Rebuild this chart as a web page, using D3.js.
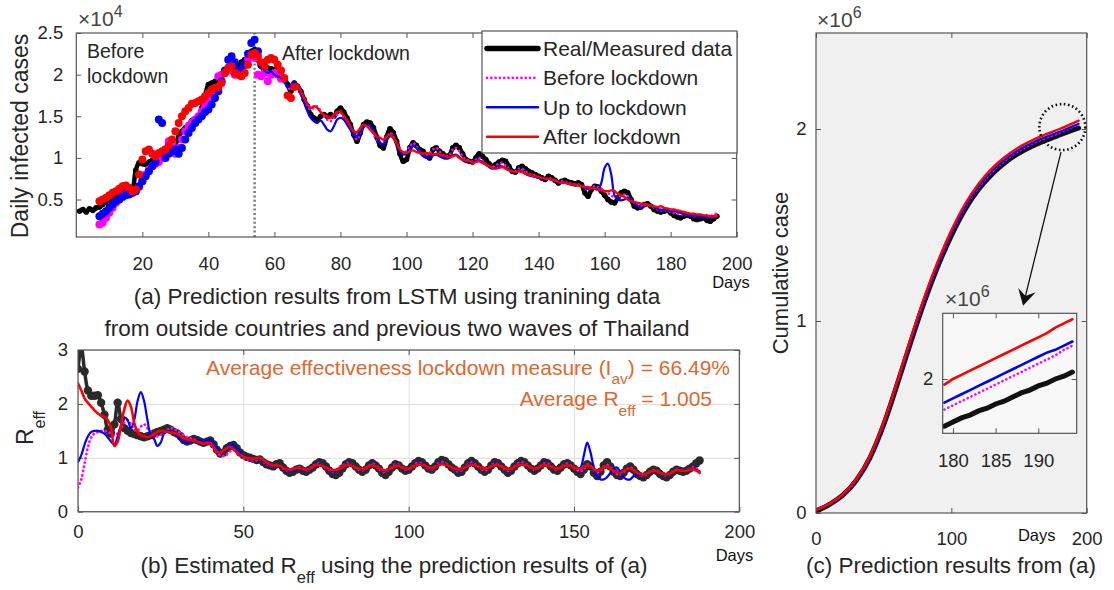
<!DOCTYPE html>
<html>
<head>
<meta charset="utf-8">
<script src="https://cdn.jsdelivr.net/npm/d3@7"></script>
<style>
  body { margin: 0; background: #fff; }
  svg { font-family: "Liberation Sans", Arial, sans-serif; }
</style>
</head>
<body>
<div id="chart"></div>
<script>
// ---------- data ----------
// (a) daily infected cases, in units of 1e4, real data from day 1
const realStartDay = 1;
const dailyReal = [
  0.36,0.38,0.35,0.39,0.37,0.40,
  0.41,0.44,0.47,0.50,0.53,0.55,0.57,0.58,0.60,0.59,0.62,
  0.85,0.94,0.93,
  0.92,0.95,0.97,0.96,1.00,1.04,1.07,1.10,1.12,1.16,
  1.25,1.32,1.36,1.40,1.45,1.47,1.50,1.60,1.75,1.88,
  1.90,1.92,1.95,2.00,2.05,2.10,2.12,2.08,2.10,2.15,
  2.18,2.22,2.28,2.30,2.18,2.10,2.05,2.08,2.07,2.06,
  2.04,2.00,1.96,1.88,1.80,1.90,1.86,1.80,1.70,1.62,
  1.52,1.48,1.46,1.50,1.52,1.50,1.52,1.50,1.56,1.60,
  1.55,1.48,1.40,1.28,1.20,1.30,1.40,1.43,1.42,1.36,
  1.25,1.15,1.12,1.25,1.35,1.30,1.20,1.05,0.96,0.98,
  1.12,1.18,1.15,1.10,1.08,1.03,1.00,1.10,1.12,1.08,
  1.05,1.02,1.03,1.12,1.15,1.12,1.05,0.98,0.96,0.95,
  1.00,1.05,1.02,0.98,0.93,0.90,0.92,0.95,0.97,0.96,
  0.90,0.84,0.83,0.88,0.90,0.87,0.84,0.82,0.80,0.78,
  0.76,0.74,0.78,0.76,0.73,0.70,0.72,0.73,0.71,0.70,
  0.69,0.70,0.68,0.58,0.54,0.62,0.66,0.65,0.60,0.55,
  0.50,0.47,0.46,0.52,0.58,0.60,0.58,0.50,0.42,0.40,
  0.41,0.44,0.45,0.42,0.38,0.36,0.35,0.36,0.37,0.34,
  0.31,0.29,0.28,0.30,0.31,0.30,0.27,0.26,0.27,0.28,
  0.25,0.24,0.27,0.30
];
// predictions start at day 7
const predStartDay = 7;
const dailyAfter = [
  0.48,0.50,0.52,0.55,0.58,0.60,0.63,0.66,0.67,0.64,0.60,
  0.62,0.80,0.98,1.08,1.10,1.05,1.02,1.06,1.08,1.10,1.15,1.22,1.32,
  1.42,1.50,1.56,1.60,1.65,1.66,1.68,1.70,1.74,1.78,
  1.82,1.84,1.85,1.90,2.02,2.08,2.10,2.02,2.00,1.98,
  2.02,2.12,2.24,2.26,2.22,2.15,2.10,2.18,2.20,2.18,
  2.12,2.05,1.96,1.75,1.72,1.85,1.88,1.80,1.72,1.65,
  1.60,1.62,1.60,1.55,1.52,1.50,1.48,1.52,1.55,1.56,
  1.50,1.45,1.38,1.32,1.31,1.36,1.40,1.38,1.34,1.30,
  1.26,1.24,1.22,1.26,1.28,1.24,1.18,1.10,1.07,1.06,
  1.08,1.09,1.07,1.06,1.05,1.06,1.05,1.04,1.05,1.04,
  1.03,1.02,1.01,1.02,1.03,1.00,0.98,0.97,0.96,0.94,
  0.95,0.96,0.94,0.92,0.90,0.88,0.87,0.88,0.89,0.87,
  0.85,0.84,0.83,0.84,0.83,0.81,0.80,0.79,0.78,0.77,
  0.76,0.75,0.75,0.74,0.73,0.71,0.70,0.70,0.69,0.68,
  0.68,0.67,0.66,0.65,0.65,0.64,0.63,0.62,0.61,0.60,
  0.60,0.61,0.60,0.57,0.55,0.53,0.50,0.48,0.47,0.46,
  0.45,0.44,0.44,0.43,0.42,0.41,0.42,0.40,0.39,0.38,
  0.38,0.37,0.36,0.35,0.34,0.33,0.33,0.32,0.32,0.31,
  0.31,0.30,0.30,0.30
];
const dailyUpTo = [
  0.30,0.33,0.36,0.40,0.44,0.48,0.50,0.53,0.55,0.56,0.58,
  0.60,0.66,0.72,0.78,0.84,0.90,0.95,1.46,1.42,1.00,1.05,1.08,1.10,
  1.05,1.12,1.22,1.30,1.36,1.42,1.46,1.50,1.55,1.58,
  1.64,1.72,1.80,1.92,2.05,2.18,2.22,2.15,2.06,2.04,
  2.12,2.25,2.38,2.42,2.28,2.12,2.05,2.02,2.04,2.00,
  1.98,1.96,1.92,1.85,1.88,1.92,1.86,1.78,1.66,1.56,
  1.48,1.44,1.42,1.45,1.40,1.34,1.32,1.38,1.46,1.48,
  1.46,1.40,1.34,1.28,1.26,1.32,1.38,1.40,1.38,1.32,
  1.24,1.18,1.16,1.22,1.26,1.24,1.16,1.08,1.04,1.05,
  1.10,1.14,1.12,1.06,1.02,1.00,1.00,1.03,1.04,1.02,
  1.00,0.99,1.00,1.03,1.04,1.01,0.97,0.95,0.96,0.95,
  0.96,0.97,0.95,0.92,0.89,0.87,0.88,0.90,0.90,0.88,
  0.86,0.84,0.83,0.85,0.84,0.81,0.79,0.78,0.77,0.76,
  0.75,0.74,0.75,0.74,0.72,0.70,0.70,0.71,0.69,0.68,
  0.67,0.67,0.66,0.64,0.63,0.64,0.63,0.62,0.70,0.88,
  0.93,0.80,0.55,0.50,0.49,0.50,0.52,0.50,0.46,0.42,
  0.40,0.42,0.44,0.43,0.41,0.39,0.38,0.38,0.37,0.36,
  0.36,0.35,0.34,0.33,0.32,0.31,0.31,0.30,0.30,0.29,
  0.29,0.28,0.29,0.30
];
const dailyBefore = [
  0.20,0.22,0.28,0.34,0.40,0.46,0.50,0.54,0.56,0.57,0.58,
  0.60,0.65,0.72,0.80,0.86,0.90,0.93,0.95,1.00,1.10,1.20,1.18,1.05,
  1.12,1.22,1.32,1.38,1.42,1.46,1.50,1.56,1.62,1.68,
  1.74,1.82,1.98,2.00,2.02,2.06,2.05,2.00,2.02,2.06,
  2.12,2.18,2.22,2.20,2.00,1.98,2.02,1.92,2.00,2.02,
  2.00,1.95,1.90,1.85,1.82,1.86,1.84,1.76,1.68,1.62,
  1.58,1.60,1.62,1.56,1.50,1.46,1.44,1.48,1.52,1.54,
  1.50,1.44,1.36,1.28,1.22,1.30,1.38,1.40,1.36,1.28,
  1.22,1.18,1.18,1.24,1.30,1.26,1.18,1.10,1.06,1.08,
  1.14,1.18,1.14,1.08,1.05,1.04,1.06,1.10,1.12,1.08,
  1.04,1.02,1.03,1.10,1.12,1.08,1.02,0.98,0.97,0.96,
  0.98,1.00,0.97,0.93,0.90,0.89,0.91,0.93,0.94,0.91,
  0.87,0.84,0.84,0.87,0.87,0.84,0.81,0.80,0.79,0.77,
  0.75,0.74,0.76,0.75,0.73,0.71,0.72,0.72,0.70,0.69,
  0.68,0.68,0.67,0.64,0.62,0.64,0.66,0.65,0.63,0.60,
  0.58,0.55,0.52,0.53,0.55,0.56,0.54,0.50,0.46,0.43,
  0.42,0.44,0.44,0.42,0.40,0.38,0.37,0.37,0.37,0.35,
  0.34,0.33,0.32,0.32,0.32,0.31,0.30,0.30,0.30,0.30,
  0.29,0.30,0.32,0.33
];
const lockdownDay = 54;

// (b) effective reproduction number, from day 0
const rStartDay = 0;
const rReal = [
  2.65,3.05,2.60,2.25,2.15,2.15,2.16,2.02,1.80,1.52,
  1.45,1.62,2.02,1.72,1.55,1.50,1.46,1.44,1.42,1.40,
  1.38,1.40,1.42,1.45,1.48,1.50,1.52,1.55,1.52,1.48,
  1.45,1.40,1.33,1.30,1.32,1.35,1.33,1.30,1.28,1.30,
  1.32,1.25,1.15,1.08,1.10,1.18,1.22,1.24,1.18,1.10,
  1.05,1.02,1.00,0.98,0.96,0.97,0.92,0.88,0.86,0.84,
  0.88,0.90,0.82,0.76,0.72,0.74,0.78,0.80,0.76,0.74,
  0.78,0.82,0.88,0.92,0.90,0.84,0.76,0.70,0.68,0.72,
  0.80,0.88,0.92,0.90,0.84,0.78,0.74,0.78,0.86,0.90,
  0.86,0.80,0.72,0.68,0.74,0.82,0.88,0.86,0.80,0.76,
  0.78,0.84,0.90,0.94,0.92,0.86,0.80,0.78,0.84,0.92,
  0.96,0.94,0.88,0.82,0.78,0.72,0.74,0.82,0.90,0.94,
  0.90,0.84,0.78,0.74,0.78,0.86,0.92,0.90,0.84,0.78,
  0.72,0.76,0.84,0.90,0.94,0.92,0.86,0.80,0.76,0.80,
  0.86,0.92,0.90,0.84,0.78,0.76,0.82,0.88,0.90,0.86,
  0.80,0.74,0.70,0.78,0.88,0.84,0.72,0.66,0.74,0.86,
  0.92,0.84,0.74,0.68,0.66,0.72,0.80,0.84,0.78,0.70,
  0.66,0.64,0.68,0.74,0.78,0.76,0.70,0.66,0.64,0.68,
  0.74,0.78,0.76,0.74,0.76,0.80,0.84,0.90,0.95
];
const rAfter = [
  2.38,2.25,2.10,2.02,1.95,1.88,1.82,1.78,1.76,1.70,
  1.55,1.22,1.30,1.60,1.90,2.06,1.95,1.65,1.48,1.42,
  1.40,1.38,1.40,1.44,1.48,1.50,1.49,1.48,1.47,1.46,
  1.44,1.40,1.36,1.34,1.33,1.32,1.30,1.28,1.26,1.28,
  1.27,1.20,1.12,1.10,1.14,1.18,1.20,1.16,1.10,1.05,
  1.02,1.00,0.99,0.98,0.99,1.00,0.96,0.92,0.88,0.86,
  0.86,0.85,0.82,0.79,0.78,0.79,0.81,0.81,0.79,0.78,
  0.80,0.83,0.86,0.87,0.85,0.82,0.79,0.77,0.78,0.80,
  0.83,0.86,0.87,0.85,0.82,0.80,0.79,0.81,0.84,0.86,
  0.84,0.81,0.78,0.77,0.79,0.82,0.85,0.85,0.82,0.80,
  0.80,0.82,0.85,0.87,0.87,0.85,0.82,0.81,0.83,0.86,
  0.88,0.87,0.85,0.82,0.80,0.79,0.80,0.82,0.85,0.87,
  0.86,0.84,0.81,0.80,0.81,0.84,0.86,0.86,0.84,0.81,
  0.79,0.80,0.83,0.86,0.87,0.87,0.85,0.82,0.80,0.81,
  0.84,0.86,0.86,0.84,0.81,0.80,0.82,0.85,0.86,0.85,
  0.82,0.80,0.80,0.83,0.86,0.84,0.80,0.76,0.78,0.82,
  0.84,0.80,0.76,0.73,0.72,0.75,0.79,0.80,0.77,0.73,
  0.70,0.69,0.71,0.74,0.76,0.75,0.72,0.70,0.69,0.71,
  0.74,0.77,0.77,0.76,0.76,0.78,0.79,0.76,0.72
];
const rUpTo = [
  0.92,1.05,1.25,1.40,1.48,1.50,1.50,1.48,1.45,1.38,
  1.30,1.25,1.40,1.60,1.75,1.70,1.55,1.70,2.05,2.22,
  2.05,1.70,1.42,1.35,1.22,1.28,1.45,1.50,1.48,1.46,
  1.40,1.32,1.28,1.28,1.30,1.30,1.32,1.33,1.30,1.32,
  1.34,1.28,1.18,1.12,1.14,1.20,1.25,1.25,1.18,1.10,
  1.04,1.00,0.98,0.97,0.98,0.98,0.94,0.90,0.86,0.84,
  0.86,0.86,0.82,0.78,0.75,0.76,0.79,0.80,0.78,0.76,
  0.78,0.82,0.86,0.88,0.86,0.82,0.78,0.75,0.76,0.80,
  0.84,0.87,0.88,0.86,0.82,0.79,0.78,0.80,0.84,0.87,
  0.85,0.81,0.77,0.76,0.78,0.82,0.86,0.86,0.82,0.79,
  0.79,0.82,0.86,0.88,0.88,0.85,0.81,0.80,0.83,0.87,
  0.89,0.88,0.85,0.81,0.78,0.77,0.79,0.82,0.86,0.88,
  0.87,0.84,0.80,0.79,0.80,0.84,0.87,0.87,0.84,0.80,
  0.78,0.79,0.83,0.87,0.88,0.88,0.85,0.81,0.79,0.80,
  0.84,0.87,0.87,0.84,0.80,0.79,0.82,0.86,0.87,0.85,
  0.82,0.80,0.82,1.05,1.28,1.10,0.82,0.66,0.60,0.60,
  0.64,0.72,0.80,0.82,0.74,0.64,0.60,0.60,0.66,0.70,
  0.68,0.68,0.70,0.73,0.75,0.74,0.71,0.69,0.68,0.70,
  0.73,0.76,0.77,0.76,0.77,0.79,0.80,0.78,0.75
];
const rBefore = [
  0.45,0.60,0.90,1.20,1.38,1.45,1.48,1.50,1.50,1.48,
  1.45,1.42,1.45,1.55,1.65,1.70,1.62,1.52,1.50,1.58,
  1.62,1.55,1.48,1.42,1.40,1.42,1.48,1.52,1.55,1.54,
  1.50,1.46,1.42,1.38,1.36,1.34,1.32,1.30,1.30,1.28,
  1.25,1.18,1.10,1.05,1.03,1.06,1.12,1.15,1.10,1.05,
  1.00,0.98,0.96,0.95,0.96,0.97,0.93,0.89,0.86,0.84,
  0.87,0.86,0.81,0.77,0.76,0.78,0.80,0.82,0.79,0.76,
  0.79,0.84,0.88,0.89,0.86,0.81,0.77,0.74,0.76,0.81,
  0.85,0.89,0.90,0.86,0.81,0.78,0.77,0.80,0.85,0.89,
  0.86,0.80,0.75,0.74,0.78,0.83,0.88,0.87,0.82,0.78,
  0.79,0.83,0.88,0.91,0.89,0.85,0.80,0.79,0.83,0.89,
  0.92,0.90,0.86,0.81,0.77,0.75,0.77,0.82,0.88,0.91,
  0.88,0.84,0.79,0.77,0.79,0.85,0.89,0.88,0.84,0.79,
  0.76,0.78,0.84,0.89,0.91,0.90,0.86,0.81,0.78,0.80,
  0.85,0.89,0.89,0.85,0.80,0.78,0.82,0.87,0.89,0.86,
  0.81,0.77,0.75,0.80,0.87,0.85,0.78,0.73,0.76,0.83,
  0.87,0.82,0.75,0.70,0.69,0.73,0.79,0.82,0.78,0.72,
  0.68,0.67,0.70,0.74,0.77,0.76,0.72,0.69,0.67,0.70,
  0.75,0.78,0.77,0.76,0.77,0.80,0.82,0.80,0.76
];

// (c) cumulative cases, in units of 1e6
const cumDays = [0,10,20,30,40,50,60,70,80,90,100,110,120,130,140,150,160,170,180,190,194];
const cumReal   = [0.008,0.045,0.094,0.172,0.290,0.460,0.670,0.890,1.100,1.285,1.445,1.580,1.685,1.765,1.827,1.875,1.912,1.942,1.969,1.995,2.005];
const cumBefore = [0.018,0.048,0.096,0.174,0.293,0.465,0.675,0.896,1.107,1.293,1.454,1.590,1.695,1.776,1.838,1.887,1.924,1.954,1.981,2.012,2.024];
const cumUpTo   = [0.020,0.050,0.098,0.176,0.295,0.466,0.678,0.899,1.111,1.297,1.458,1.594,1.700,1.781,1.843,1.892,1.929,1.959,1.986,2.016,2.027];
const cumAfter  = [0.015,0.050,0.100,0.180,0.300,0.473,0.686,0.910,1.123,1.310,1.472,1.608,1.714,1.795,1.857,1.905,1.942,1.973,2.000,2.031,2.043];
// zoomed inset, days 179..194
const insetDays = [179,180,181,182,183,184,185,186,187,188,189,190,191,192,193,194];
const insReal   = [1.966,1.969,1.972,1.974,1.977,1.979,1.982,1.984,1.987,1.990,1.992,1.995,1.997,2.000,2.002,2.005];
const insBefore = [1.978,1.981,1.984,1.987,1.990,1.993,1.996,1.999,2.002,2.005,2.008,2.011,2.014,2.017,2.021,2.024];
const insUpTo   = [1.983,1.986,1.989,1.992,1.995,1.998,2.001,2.004,2.007,2.010,2.013,2.016,2.019,2.021,2.024,2.027];
const insAfter  = [1.996,2.000,2.003,2.006,2.009,2.012,2.015,2.018,2.021,2.024,2.027,2.030,2.033,2.037,2.040,2.043];

const legendNames = ["Real/Measured data", "Before lockdown", "Up to lockdown", "After lockdown"];
const avgLockdown = "66.49%", avgReff = "1.005";

// ---------- drawing ----------
const W = 1114, H = 590;
const textCol = "#262626", axisCol = "#555", orange = "#e0672f";
const svg = d3.select("#chart").append("svg").attr("width", W).attr("height", H);

const pts = (arr, start) => arr.map((v, i) => [start + i, v]);
const zip = (xs, ys) => xs.map((d, i) => [d, ys[i]]);

function panel(id, x, y, o) {
  const [xl, xr] = x.range(), [yb, yt] = y.range();
  svg.append("clipPath").attr("id", id).append("rect")
    .attr("x", xl).attr("y", yt).attr("width", xr - xl).attr("height", yb - yt);
  svg.append("rect").attr("x", xl).attr("y", yt).attr("width", xr - xl).attr("height", yb - yt)
    .attr("fill", o.bg || "#fff");
  const style = s => {
    s.select(".domain").remove();
    s.attr("font-size", o.fs || 18.5).attr("font-family", null).attr("color", textCol);
    s.selectAll(".tick line").attr("stroke", axisCol);
  };
  if (o.grid) {
    svg.append("g").attr("transform", `translate(0,${yb})`)
      .call(d3.axisBottom(x).tickValues(o.xt).tickSize(-(yb - yt)).tickFormat(""))
      .call(s => s.select(".domain").remove())
      .selectAll("line").attr("stroke", "#dedede");
    svg.append("g").attr("transform", `translate(${xl},0)`)
      .call(d3.axisLeft(y).tickValues(o.yt).tickSize(-(xr - xl)).tickFormat(""))
      .call(s => s.select(".domain").remove())
      .selectAll("line").attr("stroke", "#dedede");
  }
  svg.append("g").attr("transform", `translate(0,${yb})`)
    .call(d3.axisBottom(x).tickValues(o.xt).tickSize(-5).tickPadding(o.xpad).tickFormat(String)).call(style);
  svg.append("g").attr("transform", `translate(0,${yt})`)
    .call(d3.axisTop(x).tickValues(o.xt).tickSize(-5).tickFormat("")).call(style);
  svg.append("g").attr("transform", `translate(${xl},0)`)
    .call(d3.axisLeft(y).tickValues(o.yt).tickSize(-5).tickPadding(o.ypad).tickFormat(String)).call(style);
  svg.append("g").attr("transform", `translate(${xr},0)`)
    .call(d3.axisRight(y).tickValues(o.yt).tickSize(-5).tickFormat("")).call(style);
  return svg.append("g").attr("clip-path", `url(#${id})`);
}

function box(x, y) {
  const [xl, xr] = x.range(), [yb, yt] = y.range();
  svg.append("rect").attr("x", xl).attr("y", yt).attr("width", xr - xl).attr("height", yb - yt)
    .attr("fill", "none").attr("stroke", axisCol).attr("stroke-width", 1.2);
}

// text with sub/superscript parts: [string, "sub"|"sup"|undefined]
function rich(x, y, parts, o) {
  const t = svg.append("text").attr("font-size", o.fs)
    .attr("text-anchor", o.anchor || "start").attr("fill", o.fill || textCol);
  if (o.rotate) t.attr("transform", `translate(${x},${y}) rotate(-90)`);
  else t.attr("x", x).attr("y", y);
  let shift = 0;
  parts.forEach(([s, kind]) => {
    const target = kind === "sub" ? (o.sub || 10) : kind === "sup" ? -(o.sup || 8) : 0;
    const sp = t.append("tspan").text(s).attr("dy", target - shift);
    shift = target;
    if (kind) sp.attr("font-size", o.sfs || o.fs * 0.72);
  });
  return t;
}

// ===== (a) daily cases =====
const xA = d3.scaleLinear().domain([0, 200]).range([76.3, 736.7]);
const yA = d3.scaleLinear().domain([0.05, 2.5]).range([237, 33]);
const gA = panel("clipA", xA, yA, { xt: d3.range(20, 201, 20), yt: [0.5, 1, 1.5, 2, 2.5], xpad: 20, ypad: 13 });

gA.append("line")
  .attr("x1", xA(lockdownDay)).attr("x2", xA(lockdownDay))
  .attr("y1", yA.range()[0]).attr("y2", yA.range()[1])
  .attr("stroke", "#777").attr("stroke-width", 2.5).attr("stroke-dasharray", "2,2.4");

const lineA = d3.line().x(d => xA(d[0])).y(d => yA(d[1])).curve(d3.curveCatmullRom);
const realA = pts(dailyReal, realStartDay);
gA.append("path").datum(realA).attr("d", lineA)
  .attr("fill", "none").attr("stroke", "#000").attr("stroke-width", 4.5);
gA.append("g").selectAll("circle").data(realA).join("circle")
  .attr("cx", d => xA(d[0])).attr("cy", d => yA(d[1])).attr("r", 2.8).attr("fill", "#000");

const predA = [
  { vals: dailyBefore, color: "#ff00ff", dots: 62, dash: "0.1,4.2", w: 2.6 },
  { vals: dailyUpTo, color: "#0000ff", dots: 56, dash: null, w: 2.2 },
  { vals: dailyAfter, color: "#ff0000", dots: 66, dash: null, w: 2.4 }
];
predA.forEach(s => {
  const p = pts(s.vals, predStartDay);
  gA.append("g").selectAll("circle").data(p.filter(d => d[0] <= s.dots)).join("circle")
    .attr("cx", d => xA(d[0])).attr("cy", d => yA(d[1])).attr("r", 4).attr("fill", s.color);
  gA.append("path").datum(p.filter(d => d[0] >= s.dots)).attr("d", lineA)
    .attr("fill", "none").attr("stroke", s.color).attr("stroke-width", s.w)
    .attr("stroke-linecap", "round").attr("stroke-dasharray", s.dash);
});
box(xA, yA);

rich(78, 26, [["\u00d710"], ["4", "sup"]], { fs: 21, sfs: 16, sup: 9, fill: "#444" });
rich(28, 136, [["Daily infected cases"]], { fs: 23, anchor: "middle", rotate: true });
svg.append("text").attr("x", 87).attr("y", 58).attr("font-size", 19.5).attr("fill", textCol).text("Before");
svg.append("text").attr("x", 87).attr("y", 83).attr("font-size", 19.5).attr("fill", textCol).text("lockdown");
svg.append("text").attr("x", 282).attr("y", 60).attr("font-size", 19.5).attr("fill", textCol).text("After lockdown");
svg.append("text").attr("x", 731).attr("y", 288).attr("font-size", 16.5).attr("text-anchor", "middle").attr("fill", "#111").text("Days");

// legend
const legend = svg.append("g");
legend.append("rect").attr("x", 482).attr("y", 31).attr("width", 255).attr("height", 122)
  .attr("fill", "#fff").attr("stroke", axisCol).attr("stroke-width", 1.2);
const legStyles = [
  { color: "#000", w: 5.5, dash: null },
  { color: "#ff00ff", w: 2.6, dash: "0.1,4.2" },
  { color: "#0000ff", w: 2.4, dash: null },
  { color: "#ff0000", w: 2.4, dash: null }
];
legendNames.forEach((name, i) => {
  const cy = 48.5 + i * 29.4;
  legend.append("line").attr("x1", 487).attr("x2", 538).attr("y1", cy).attr("y2", cy)
    .attr("stroke", legStyles[i].color).attr("stroke-width", legStyles[i].w)
    .attr("stroke-linecap", "round").attr("stroke-dasharray", legStyles[i].dash);
  legend.append("text").attr("x", 543).attr("y", cy + 7.5).attr("font-size", 21).attr("fill", textCol).text(name);
});

rich(397, 304, [["(a) Prediction results from LSTM using tranining data"]], { fs: 22.5, anchor: "middle" });
rich(397, 336, [["from outside countries and previous two waves of Thailand"]], { fs: 22.5, anchor: "middle" });

// ===== (b) R_eff =====
const xB = d3.scaleLinear().domain([0, 200]).range([78, 739.3]);
const yB = d3.scaleLinear().domain([0, 3]).range([511.7, 350]);
const gB = panel("clipB", xB, yB, { xt: [0, 50, 100, 150, 200], yt: [0, 1, 2, 3], xpad: 13, ypad: 10, grid: true });
const lineB = d3.line().x(d => xB(d[0])).y(d => yB(d[1])).curve(d3.curveCatmullRom);
const realB = pts(rReal, rStartDay);
gB.append("path").datum(realB).attr("d", lineB)
  .attr("fill", "none").attr("stroke", "#2a2a2a").attr("stroke-width", 3.5);
gB.append("g").selectAll("circle").data(realB).join("circle")
  .attr("cx", d => xB(d[0])).attr("cy", d => yB(d[1])).attr("r", 4.2).attr("fill", "#2a2a2a");
[
  { vals: rBefore, color: "#ff00ff", dash: "0.1,4.2", w: 2.8 },
  { vals: rUpTo, color: "#0000ff", dash: null, w: 2.2 },
  { vals: rAfter, color: "#ff0000", dash: null, w: 2.6 }
].forEach(s => {
  gB.append("path").datum(pts(s.vals, rStartDay)).attr("d", lineB)
    .attr("fill", "none").attr("stroke", s.color).attr("stroke-width", s.w)
    .attr("stroke-linecap", "round").attr("stroke-dasharray", s.dash);
});
box(xB, yB);

rich(33, 428, [["R"], ["eff", "sub"]], { fs: 23, sfs: 16, sub: 12, anchor: "middle", rotate: true });
rich(730, 375, [["Average effectiveness lockdown measure (I"], ["av", "sub"], [") = " + avgLockdown]],
  { fs: 21, sfs: 15.5, sub: 9, anchor: "end", fill: orange });
rich(712, 406, [["Average R"], ["eff", "sub"], [" = " + avgReff]],
  { fs: 21, sfs: 15.5, sub: 10, anchor: "end", fill: orange });
svg.append("text").attr("x", 734.5).attr("y", 561).attr("font-size", 16.5).attr("text-anchor", "middle").attr("fill", "#111").text("Days");
rich(394, 573, [["(b) Estimated R"], ["eff", "sub"], [" using the prediction results of (a)"]],
  { fs: 22.5, sfs: 16.5, sub: 10, anchor: "middle" });

// ===== (c) cumulative =====
const xC = d3.scaleLinear().domain([0, 200]).range([816, 1086.7]);
const yC = d3.scaleLinear().domain([0, 2.5]).range([513, 33]);
const gC = panel("clipC", xC, yC, { xt: [0, 100, 200], yt: [0, 1, 2], xpad: 19, ypad: 9.5, bg: "#f0f0f0" });
const lineC = d3.line().x(d => xC(d[0])).y(d => yC(d[1])).curve(d3.curveMonotoneX);
const cumStyles = [
  { vals: cumReal, ins: insReal, color: "#111", w: 5, dash: null },
  { vals: cumBefore, ins: insBefore, color: "#ff00ff", w: 2.6, dash: "0.1,4.2" },
  { vals: cumUpTo, ins: insUpTo, color: "#0000ff", w: 2.2, dash: null },
  { vals: cumAfter, ins: insAfter, color: "#ff0000", w: 2.4, dash: null }
];
cumStyles.forEach(s => {
  gC.append("path").datum(zip(cumDays, s.vals)).attr("d", lineC)
    .attr("fill", "none").attr("stroke", s.color).attr("stroke-width", s.w)
    .attr("stroke-linecap", "round").attr("stroke-dasharray", s.dash);
});
box(xC, yC);

// zoom circle and arrow
const circ = [182, 2.01], tip = [153, 1.08], tail = [181, 1.88];
svg.append("circle").attr("cx", xC(circ[0])).attr("cy", yC(circ[1])).attr("r", 23)
  .attr("fill", "none").attr("stroke", "#111").attr("stroke-width", 2.6).attr("stroke-dasharray", "1.6,2.6");
{
  const x1 = xC(tail[0]), y1 = yC(tail[1]), x2 = xC(tip[0]), y2 = yC(tip[1]);
  const len = Math.hypot(x2 - x1, y2 - y1), ux = (x2 - x1) / len, uy = (y2 - y1) / len;
  svg.append("line").attr("x1", x1).attr("y1", y1).attr("x2", x2 - ux * 8).attr("y2", y2 - uy * 8)
    .attr("stroke", "#111").attr("stroke-width", 1.3);
  const hl = 16, hw = 9;
  const bx = x2 - ux * hl, by = y2 - uy * hl;
  const p = [[x2, y2], [bx + uy * hw, by - ux * hw], [x2 - ux * 10, y2 - uy * 10], [bx - uy * hw, by + ux * hw]];
  svg.append("path").attr("d", "M" + p.join("L") + "Z").attr("fill", "#111");
}

rich(817, 27, [["\u00d710"], ["6", "sup"]], { fs: 21, sfs: 16, sup: 9, fill: "#444" });
rich(788, 273, [["Cumulative case"]], { fs: 22, anchor: "middle", rotate: true });
svg.append("text").attr("x", 1036.7).attr("y", 541).attr("font-size", 16.5).attr("text-anchor", "middle").attr("fill", "#111").text("Days");
rich(951, 573, [["(c) Prediction results from (a)"]], { fs: 22.5, anchor: "middle" });

// inset
const xI = d3.scaleLinear().domain([178.8, 194.5]).range([942.7, 1076.7]);
const yI = d3.scaleLinear().domain([1.9609, 2.0473]).range([433.3, 313.3]);
const gI = panel("clipI", xI, yI, { xt: [180, 185, 190], yt: [2], xpad: 20.5, ypad: 9.5, bg: "#f8f8f8" });
const lineI = d3.line().x(d => xI(d[0])).y(d => yI(d[1]));
cumStyles.forEach(s => {
  gI.append("path").datum(zip(insetDays, s.ins)).attr("d", lineI)
    .attr("fill", "none").attr("stroke", s.color).attr("stroke-width", s.w === 5 ? 5 : 2.6)
    .attr("stroke-linecap", "round").attr("stroke-dasharray", s.dash);
});
box(xI, yI);
rich(945, 306, [["\u00d710"], ["6", "sup"]], { fs: 21, sfs: 16, sup: 9, fill: "#444" });
</script>
</body>
</html>
